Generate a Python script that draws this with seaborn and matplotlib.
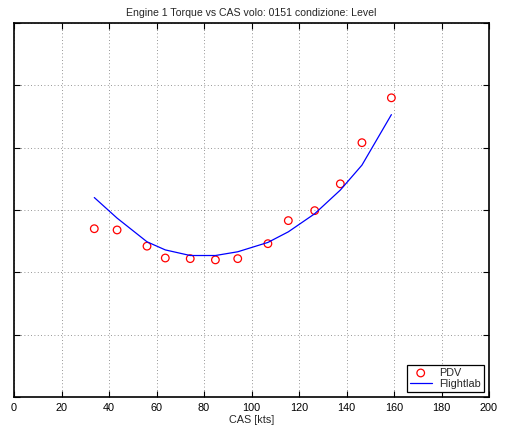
import matplotlib
matplotlib.use("Agg")
import matplotlib.pyplot as plt
import seaborn as sns
import pandas as pd

# Calibrated airspeed [kts] for each test point
cas_kts = [33.8, 43.4, 56.0, 63.7, 74.2, 84.8, 94.2, 106.9, 115.5, 126.6, 137.4, 146.5, 158.9]
# Measured engine torque (PDV)
torque_pdv = [2.70, 2.68, 2.42, 2.23, 2.22, 2.20, 2.22, 2.46, 2.83, 2.99, 3.42, 4.08, 4.80]
# Simulated engine torque (Flightlab)
torque_flightlab = [3.20, 2.87, 2.49, 2.36, 2.27, 2.27, 2.33, 2.48, 2.65, 2.94, 3.32, 3.72, 4.53]

x_ticks = [0, 20, 40, 60, 80, 100, 120, 140, 160, 180, 200]
y_ticks = [0, 1, 2, 3, 4, 5, 6]

df = pd.DataFrame({"CAS": cas_kts, "PDV": torque_pdv, "Flightlab": torque_flightlab})

sns.set_style("ticks")
plt.rcParams["font.family"] = ["Liberation Sans", "DejaVu Sans"]

fig = plt.figure(figsize=(5.06, 4.30), dpi=100)
ax = fig.add_axes([0.0277, 0.0767, 0.9387, 0.8698])

sns.scatterplot(data=df, x="CAS", y="PDV", ax=ax, marker="o", s=30,
                facecolor="none", edgecolor="red", linewidth=0.9, label="PDV")
sns.lineplot(data=df, x="CAS", y="Flightlab", ax=ax, color="blue",
             linewidth=0.9, label="Flightlab")

ax.set_xlim(0, 200)
ax.set_ylim(0, 6)
ax.set_xticks(x_ticks)
ax.set_xticklabels([str(v) for v in x_ticks], fontsize=7.8)
ax.set_yticks(y_ticks)
ax.set_yticklabels([])
ax.tick_params(direction="in", length=4, width=0.8, top=True, right=True,
               pad=4, colors="black")
ax.grid(True, linestyle=(0, (1, 3)), color="black", linewidth=0.6, alpha=0.55)
for sp in ax.spines.values():
    sp.set_linewidth(1.2)
    sp.set_color("black")

ax.set_xlabel("CAS [kts]", fontsize=7.8, labelpad=2)
ax.set_ylabel("")
ax.set_title("Engine 1 Torque vs CAS volo: 0151 condizione: Level", fontsize=7.6, pad=5)

leg = ax.legend(loc="lower right", fontsize=7.8, frameon=True, fancybox=False,
                borderpad=0.3, handlelength=2.0, labelspacing=0.1,
                borderaxespad=0.45, handletextpad=0.7)
leg.get_frame().set_edgecolor("black")
leg.get_frame().set_linewidth(0.9)
leg.get_frame().set_alpha(1)

fig.savefig("out.png", dpi=100)
